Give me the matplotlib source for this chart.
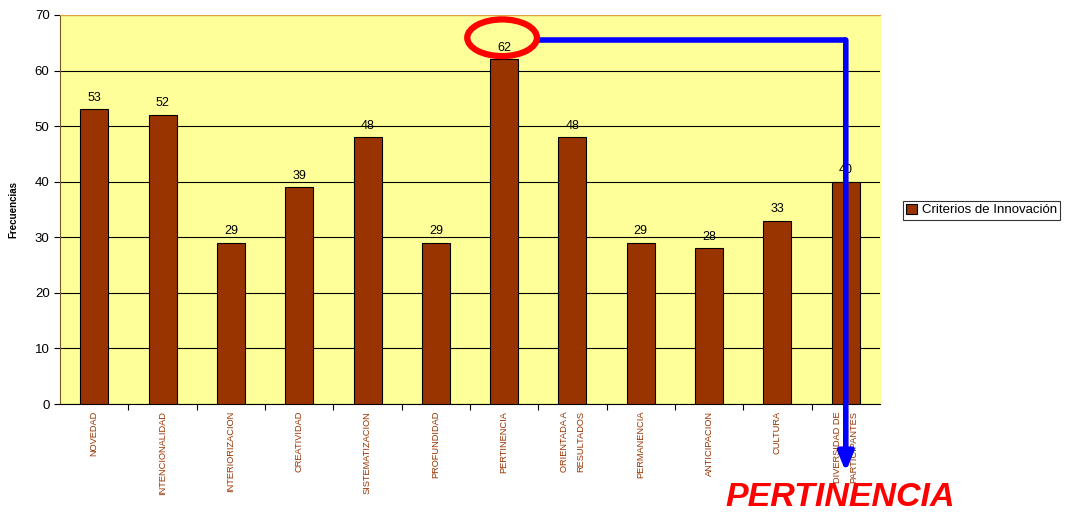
import matplotlib
matplotlib.use("Agg")
import matplotlib.pyplot as plt
from matplotlib.patches import Ellipse

categories = ["NOVEDAD", "INTENCIONALIDAD", "INTERIORIZACION", "CREATIVIDAD",
              "SISTEMATIZACION", "PROFUNDIDAD", "PERTINENCIA",
              "ORIENTADA A\nRESULTADOS", "PERMANENCIA", "ANTICIPACION",
              "CULTURA", "DIVERSIDAD DE\nPARTICIPANTES"]
frecuencias = [53, 52, 29, 39, 48, 29, 62, 48, 29, 28, 33, 40]
yticks = [0, 10, 20, 30, 40, 50, 60, 70]

plt.rcParams['font.family'] = ['Liberation Sans', 'DejaVu Sans']

fig = plt.figure(figsize=(10.76, 5.15), dpi=100)
ax = fig.add_axes([0.0558, 0.2155, 0.762, 0.7554])
ax.set_facecolor('#FFFF99')

x = list(range(len(categories)))
bars = ax.bar(x, frecuencias, width=0.41, color='#993300', edgecolor='black',
              linewidth=0.8, label='Criterios de Innovación', zorder=3)
for xi, v in zip(x, frecuencias):
    ax.text(xi, v + 1.0, str(v), ha='center', va='bottom', fontsize=9, zorder=4)

ax.set_xlim(-0.5, len(categories) - 0.5)
ax.set_ylim(0, 70)
ax.set_yticks(yticks)
ax.yaxis.grid(True, color='black', linewidth=0.8, zorder=0)
ax.set_axisbelow(True)
ax.tick_params(axis='y', labelsize=9.5, length=4)
# ticks between the bars, labels under the bars
ax.set_xticks([i - 0.5 for i in range(1, len(categories))])
ax.set_xticklabels([])
ax.tick_params(axis='x', length=4)
ax.set_xticks(x, minor=True)
ax.set_xticklabels(categories, minor=True, rotation=90, fontsize=6.7,
                   color='#993300', va='top', ha='center',
                   family=['Liberation Sans Narrow', 'Liberation Sans'],
                   linespacing=2.0)
ax.tick_params(axis='x', which='minor', length=0, pad=5)
ax.set_ylabel('Frecuencias', fontsize=7, fontweight='bold', labelpad=12)

ax.spines['top'].set_color('#E0A040')
ax.spines['right'].set_color('#FFFF99')
ax.spines['left'].set_color('#7a5a20')
ax.spines['bottom'].set_color('black')

# resaltado de PERTINENCIA
ax.add_patch(Ellipse((5.97, 65.9), 1.02, 6.6, fill=False, edgecolor='red',
                     linewidth=4.5, zorder=6, clip_on=False))
ax.plot([6.48, 11.0], [65.5, 65.5], color='blue', linewidth=4, zorder=5,
        solid_capstyle='butt', clip_on=False)
ax.annotate('', xy=(11.0, -12.2), xytext=(11.0, 65.5),
            arrowprops=dict(arrowstyle='-|>,head_width=0.45,head_length=1.1',
                            color='blue', linewidth=4, shrinkA=0, shrinkB=0),
            zorder=5, annotation_clip=False)
ax.text(10.92, -16.9, 'PERTINENCIA', color='red', fontsize=24.5,
        fontweight='bold', fontstyle='italic', ha='center', va='center',
        clip_on=False)

leg = fig.legend(handles=[bars], labels=['Criterios de Innovación'],
                 loc='center left', bbox_to_anchor=(0.833, 0.592),
                 fontsize=9.5, frameon=True, fancybox=False, handlelength=0.8,
                 handleheight=0.8, handletextpad=0.4, borderpad=0.25)
leg.get_frame().set_edgecolor('black')
leg.get_frame().set_linewidth(0.8)

fig.savefig('out.png', dpi=100)
